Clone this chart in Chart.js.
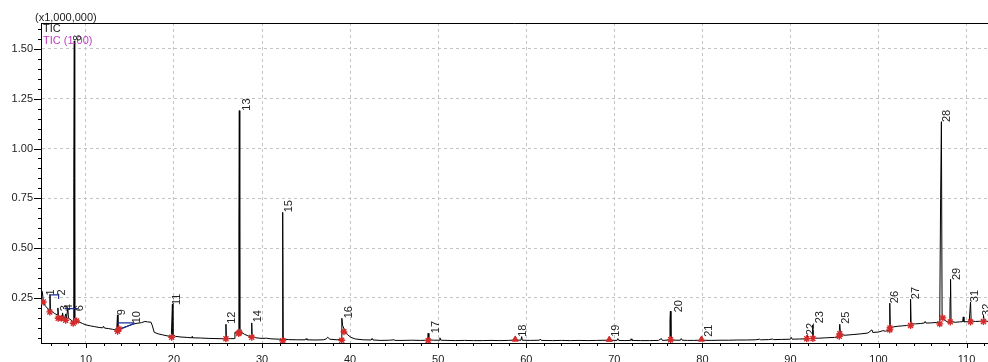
<!DOCTYPE html>
<html><head><meta charset="utf-8">
<script src="https://cdn.jsdelivr.net/npm/chart.js@4/dist/chart.umd.min.js"></script>
<style>html,body{margin:0;padding:0;background:#fff;overflow:hidden;width:988px;height:362px}canvas{display:block}</style>
</head><body>
<canvas id="c" width="994" height="362"></canvas>
<script>
// ---- data (retention time in min, intensity in x1,000,000) ----
const traceX = [4.92,5.0,5.08,5.15,5.3,5.5,5.7,5.88,5.92,5.97,6.2,6.45,6.75,6.82,6.88,7.1,7.3,7.35,7.42,7.6,7.7,7.78,7.95,8.02,8.3,8.55,8.62,8.68,8.73,8.9,9.2,9.6,10.0,10.5,11.0,11.5,11.9,12.0,12.1,12.6,13.0,13.5,13.58,13.64,13.9,14.3,14.8,15.3,15.8,16.3,16.7,17.0,17.4,17.55,17.75,18.2,18.7,19.2,19.7,19.82,19.88,20.2,20.8,21.5,22.0,22.05,22.1,23.0,24.0,25.0,25.85,25.9,25.95,26.4,26.85,26.92,27.3,27.37,27.42,27.47,27.7,28.0,28.4,28.78,28.83,28.88,29.3,30.0,30.5,31.0,32.0,32.3,32.33,32.36,32.41,33.0,34.0,34.9,35.0,35.1,36.0,37.0,37.3,37.45,37.7,38.5,39.0,39.06,39.15,39.4,39.7,40.1,40.6,41.5,42.4,42.5,42.6,43.5,44.5,45.0,45.1,46.0,47.0,48.0,48.8,48.86,48.94,49.5,50.1,50.2,50.3,51.0,52.0,53.0,54.0,55.0,56.0,57.0,58.0,58.6,58.75,58.85,59.4,59.48,59.55,60.5,61.5,61.6,61.7,63.0,64.0,65.0,66.0,67.0,68.0,69.2,69.43,69.55,70.3,70.4,70.5,71.2,71.85,71.9,72.0,73.0,74.0,75.0,75.35,75.45,76.25,76.32,76.37,76.43,76.9,77.5,77.6,77.7,78.3,79.0,79.8,79.92,80.02,81.0,82.0,83.0,84.0,85.0,86.0,86.5,86.6,87.5,88.0,88.1,89.0,90.0,90.1,90.2,91.0,91.8,91.9,92.0,92.45,92.52,92.6,93.2,94.0,95.0,95.5,95.6,95.7,96.2,97.0,98.0,98.8,99.25,99.35,100.0,100.5,100.8,101.2,101.28,101.34,101.7,102.2,102.7,103.2,103.58,103.64,103.7,104.2,104.8,105.2,105.3,105.4,106.0,106.6,106.95,107.05,107.14,107.22,107.45,107.9,108.1,108.13,108.18,108.24,108.7,109.2,109.55,109.62,109.7,110.3,110.45,110.52,111.0,111.5,111.88,111.92,112.0,112.5];
const traceY = [0.265,0.285,0.27,0.235,0.215,0.205,0.195,0.19,0.268,0.19,0.18,0.172,0.165,0.2,0.16,0.155,0.15,0.175,0.152,0.15,0.17,0.148,0.2,0.148,0.14,0.13,0.85,1.54,0.15,0.14,0.13,0.122,0.115,0.11,0.106,0.102,0.1,0.108,0.099,0.096,0.093,0.088,0.165,0.095,0.097,0.102,0.11,0.118,0.123,0.126,0.132,0.13,0.128,0.11,0.078,0.07,0.065,0.06,0.057,0.22,0.065,0.057,0.054,0.052,0.05,0.056,0.05,0.049,0.047,0.046,0.045,0.118,0.048,0.046,0.046,0.078,0.078,0.607,1.19,0.088,0.076,0.068,0.06,0.055,0.125,0.056,0.05,0.047,0.048,0.045,0.043,0.042,0.6,0.68,0.045,0.041,0.04,0.04,0.046,0.04,0.039,0.04,0.045,0.053,0.043,0.04,0.042,0.148,0.112,0.085,0.066,0.052,0.044,0.04,0.039,0.047,0.039,0.037,0.038,0.04,0.037,0.037,0.038,0.037,0.038,0.073,0.04,0.038,0.038,0.05,0.038,0.037,0.036,0.037,0.036,0.036,0.037,0.036,0.037,0.039,0.055,0.039,0.038,0.056,0.038,0.037,0.038,0.044,0.037,0.036,0.037,0.036,0.037,0.036,0.037,0.038,0.052,0.038,0.037,0.046,0.037,0.036,0.037,0.045,0.037,0.036,0.036,0.037,0.046,0.037,0.039,0.14,0.184,0.041,0.038,0.038,0.046,0.038,0.037,0.037,0.038,0.054,0.038,0.037,0.038,0.038,0.039,0.039,0.04,0.043,0.04,0.041,0.044,0.041,0.042,0.043,0.052,0.043,0.044,0.045,0.063,0.046,0.047,0.115,0.048,0.048,0.05,0.052,0.055,0.118,0.066,0.063,0.066,0.07,0.074,0.09,0.077,0.079,0.086,0.083,0.088,0.224,0.1,0.105,0.108,0.11,0.112,0.114,0.244,0.12,0.12,0.122,0.124,0.132,0.124,0.125,0.127,0.13,0.75,1.135,0.16,0.14,0.128,0.13,0.25,0.344,0.132,0.128,0.13,0.131,0.155,0.13,0.132,0.23,0.135,0.132,0.133,0.134,0.163,0.135,0.132];

const peakLabels = ['1','2','3','4','6','8','9','10','11','12','13','14','15','16','17','18','19','20','21','22','23','25','26','27','28','29','31','32'];
const peakLabelX = [6.02,7.27,7.61,8.13,9.37,9.15,14.15,15.8,20.34,26.6,28.24,29.55,33.07,39.9,49.7,59.6,70.17,77.33,80.74,92.33,93.35,96.25,101.9,104.2,107.78,108.92,111.0,112.27];
const peakLabelY = [0.263,0.263,0.183,0.188,0.183,1.54,0.163,0.123,0.215,0.12,1.19,0.128,0.68,0.148,0.073,0.055,0.055,0.178,0.055,0.063,0.123,0.12,0.224,0.244,1.133,0.34,0.229,0.16];

const starX = [5.15,5.9,6.85,7.23,7.7,8.56,8.94,13.6,13.75,19.74,25.9,27.42,27.35,28.83,32.35,39.05,39.3,48.86,76.4,91.85,92.55,95.55,95.6,101.28,101.3,103.64,106.95,107.3,108.15,110.45,111.92];
const starY = [0.23,0.18,0.148,0.148,0.138,0.123,0.135,0.083,0.095,0.053,0.045,0.078,0.072,0.053,0.035,0.038,0.08,0.036,0.04,0.045,0.047,0.058,0.07,0.09,0.1,0.112,0.12,0.15,0.13,0.13,0.132];
const triX = [58.75,69.43,79.9];
const triY = [0.042,0.041,0.042];

const blueX = [5.94,6.9,6.9,null,7.57,9.09,null,13.6,15.5,null,13.7,15.5];
const blueY = [0.266,0.266,0.245,null,0.197,0.197,null,0.125,0.125,null,0.09,0.122];

const xTickValues = [10,20,30,40,50,60,70,80,90,100,110];
const yTickValues = [0.25,0.50,0.75,1.00,1.25,1.50];
const X_MIN = 4.9, X_MAX = 112.5, Y_MIN = 0.024, Y_MAX = 1.63;

const FONT = '"Liberation Sans", Arial, sans-serif';
const zip = (xs, ys) => xs.map((v, i) => ({x: v, y: ys[i]}));

const overlay = {
  id: 'overlay',
  afterDraw(chart) {
    const {ctx, chartArea: a, scales: {x, y}} = chart;
    ctx.save();
    ctx.strokeStyle = '#000';
    ctx.lineWidth = 1;
    ctx.beginPath();
    ctx.moveTo(a.left, a.top + 0.5); ctx.lineTo(a.right, a.top + 0.5);
    for (let v = 6; v <= X_MAX; v += 2) {
      const px = Math.round(x.getPixelForValue(v)) + 0.5;
      const len = v % 10 === 0 ? 5 : 3;
      ctx.moveTo(px, a.bottom); ctx.lineTo(px, a.bottom + len);
    }
    for (let k = 1; k <= 32; k++) {
      const v = k * 0.05;
      if (v < Y_MIN || v > Y_MAX) continue;
      const py = Math.round(y.getPixelForValue(v)) + 0.5;
      const len = k % 5 === 0 ? 7 : 3;
      ctx.moveTo(a.left - len, py); ctx.lineTo(a.left, py);
    }
    ctx.stroke();

    ctx.font = '11px ' + FONT;
    ctx.textBaseline = 'alphabetic';
    ctx.textAlign = 'left';
    ctx.fillStyle = '#222';
    ctx.fillText('(x1,000,000)', 35, 21);
    ctx.fillText('TIC', 43, 32);
    ctx.fillStyle = '#c03cc0';
    ctx.fillText('TIC (1.00)', 43, 44);

    ctx.fillStyle = '#222';
    ctx.textBaseline = 'middle';
    peakLabels.forEach((t, i) => {
      const cx = x.getPixelForValue(peakLabelX[i]);
      const by = y.getPixelForValue(peakLabelY[i]);
      ctx.save();
      ctx.translate(cx, by);
      ctx.rotate(-Math.PI / 2);
      ctx.fillText(t, 0, 0);
      ctx.restore();
    });
    ctx.restore();
  }
};

new Chart(document.getElementById('c'), {
  type: 'scatter',
  data: {
    datasets: [
      {data: zip(traceX, traceY), showLine: true, borderColor: '#000', borderWidth: 1, pointRadius: 0, tension: 0, order: 3},
      {data: zip(blueX, blueY), showLine: true, spanGaps: false, borderColor: '#1c2f9a', borderWidth: 1.2, pointRadius: 0, order: 2},
      {data: zip(starX, starY), showLine: false, pointStyle: 'star', pointRadius: 3.5, borderColor: '#d42a2a', borderWidth: 1.4, backgroundColor: '#d42a2a', order: 1},
      {data: zip(triX, triY), showLine: false, pointStyle: 'triangle', pointRadius: 3.5, borderColor: '#d42a2a', backgroundColor: '#d42a2a', borderWidth: 1, order: 1}
    ]
  },
  options: {
    responsive: false,
    animation: false,
    devicePixelRatio: 1,
    layout: {padding: {top: 23, left: 0, right: 0, bottom: 0}},
    plugins: {legend: {display: false}, tooltip: {enabled: false}},
    scales: {
      x: {
        type: 'linear', min: X_MIN, max: X_MAX,
        afterBuildTicks: s => { s.ticks = xTickValues.map(v => ({value: v})); },
        afterFit: s => { s.height = 19; },
        ticks: {padding: 10, color: '#222', font: {family: FONT, size: 11}, maxRotation: 0, autoSkip: false, callback: v => String(v)},
        grid: {color: '#c4c4c4', lineWidth: 1, drawTicks: false},
        border: {color: '#000', width: 1, dash: [3, 3]}
      },
      y: {
        type: 'linear', min: Y_MIN, max: Y_MAX,
        afterBuildTicks: s => { s.ticks = yTickValues.map(v => ({value: v})); },
        afterFit: s => { s.width = 41; },
        ticks: {padding: 8, color: '#222', font: {family: FONT, size: 11}, autoSkip: false, callback: v => v.toFixed(2)},
        grid: {color: '#c4c4c4', lineWidth: 1, drawTicks: false},
        border: {color: '#000', width: 1, dash: [3, 3]}
      }
    }
  },
  plugins: [overlay]
});
</script>
</body></html>
